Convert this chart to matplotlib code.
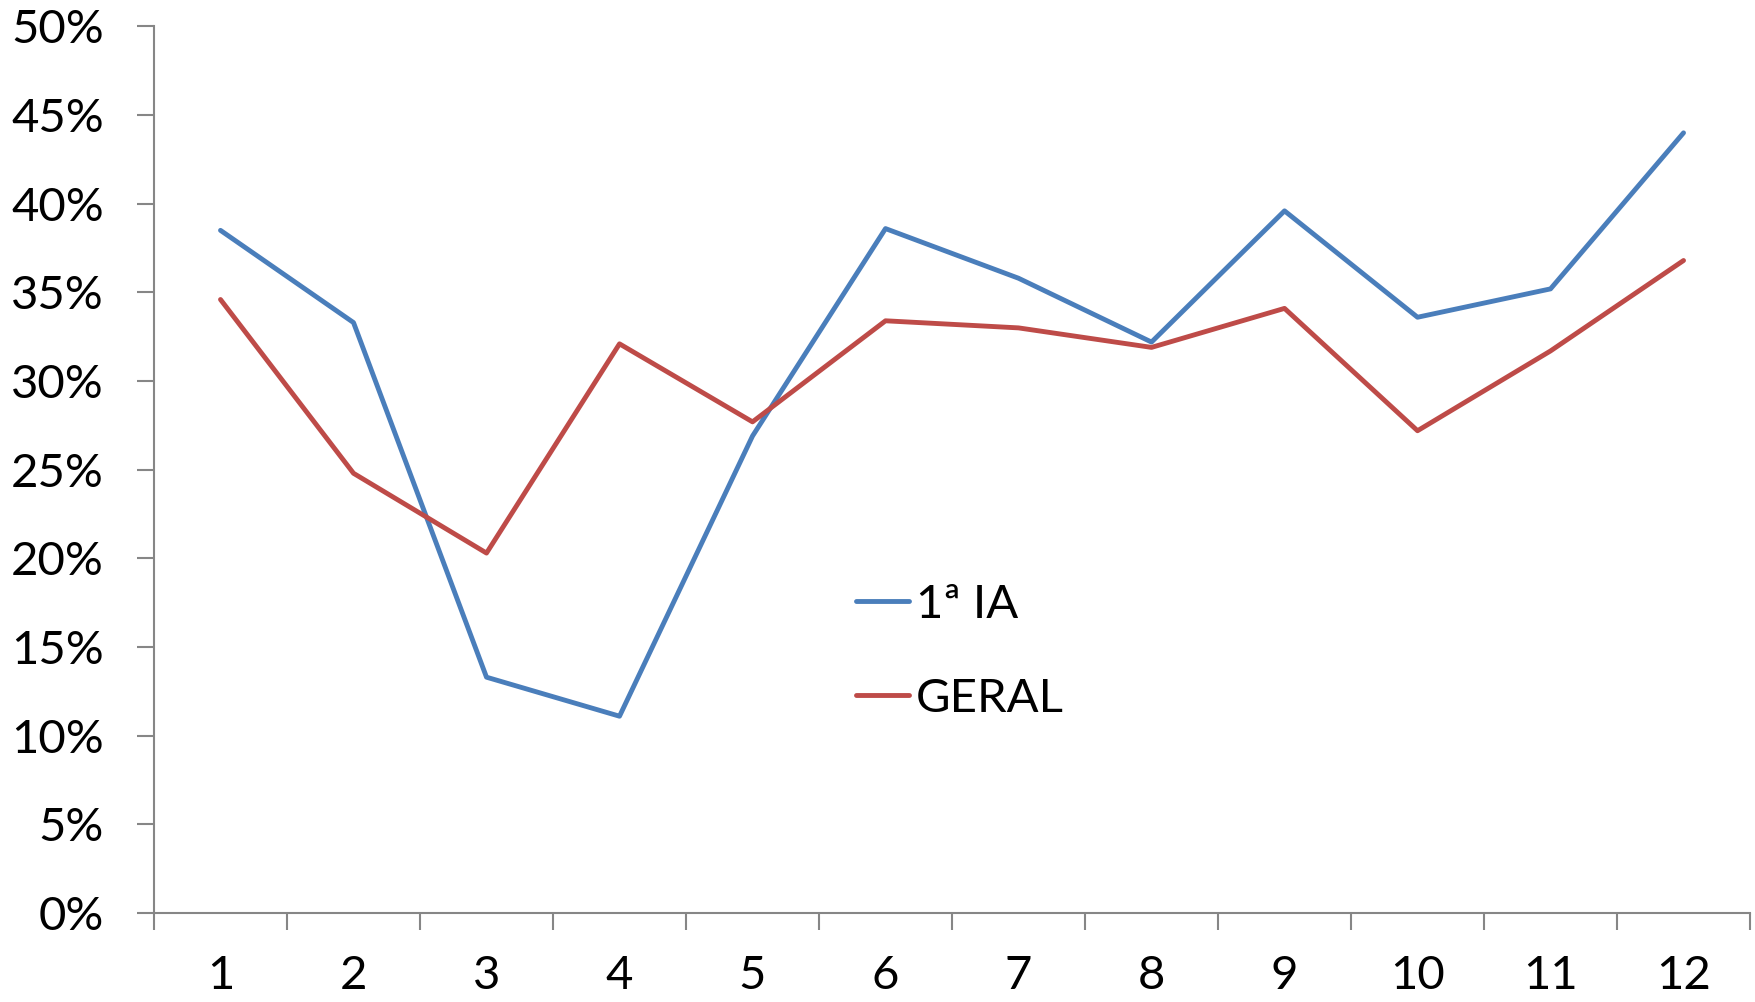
import matplotlib.pyplot as plt
from matplotlib.ticker import FuncFormatter

meses = [1, 2, 3, 4, 5, 6, 7, 8, 9, 10, 11, 12]
ia_1 = [38.5, 33.3, 13.3, 11.1, 26.9, 38.6, 35.8, 32.2, 39.6, 33.6, 35.2, 44.0]
geral = [34.6, 24.8, 20.3, 32.1, 27.7, 33.4, 33.0, 31.9, 34.1, 27.2, 31.7, 36.8]

plt.rcParams['font.family'] = ['Lato', 'DejaVu Sans']

fig = plt.figure(figsize=(17.56, 10.02), dpi=100)
ax = fig.add_axes([0.0877, 0.0888, 0.9089, 0.8848])

ax.plot(meses, ia_1, color='#4A7EBB', lw=3.5, solid_capstyle='round', label='1ª IA')
ax.plot(meses, geral, color='#BE4B48', lw=3.5, solid_capstyle='round', label='GERAL')

ax.set_xlim(0.5, 12.5)
ax.set_ylim(0, 50)
ax.set_yticks(range(0, 51, 5))
ax.yaxis.set_major_formatter(FuncFormatter(lambda v, p: f'{int(v)}%'))
ax.set_xticks(meses)
ax.set_xticks([m + 0.5 for m in [0] + meses], minor=True)

for s in ['top', 'right']:
    ax.spines[s].set_visible(False)
for s in ['left', 'bottom']:
    ax.spines[s].set_color('#868686')
    ax.spines[s].set_linewidth(1.5)

ax.tick_params(axis='y', length=12, width=1.5, color='#868686', pad=24, labelsize=34)
ax.tick_params(axis='x', which='major', length=0, pad=30, labelsize=34)
ax.tick_params(axis='x', which='minor', length=12, width=1.5, color='#868686')

ax.legend(loc='upper left', bbox_to_anchor=(0.463, 0.46), bbox_transform=fig.transFigure,
          frameon=False, fontsize=34, handlelength=1.13, handletextpad=0.15, labelspacing=1.1)

fig.savefig('out.png', dpi=100)
